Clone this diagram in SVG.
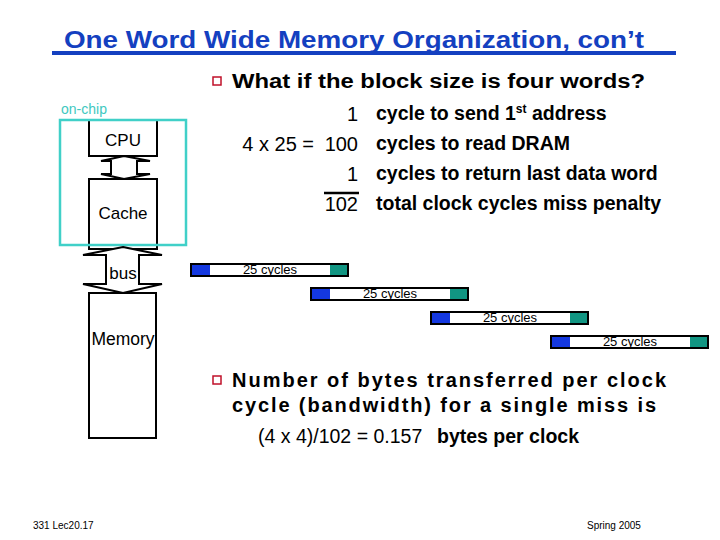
<svg xmlns="http://www.w3.org/2000/svg" width="720" height="540" viewBox="0 0 720 540">
<style>
text{font-family:"Liberation Sans",Arial,sans-serif;fill:#000}
.b{font-weight:bold}
.box{fill:#fff;stroke:#000;stroke-width:2}
.arr{fill:#fff;stroke:#000;stroke-width:2;stroke-linejoin:miter}
.bar{fill:#fff;stroke:#000;stroke-width:2}
.bl{fill:#1438e0}
.tl{fill:#119582}
.cy{font-size:13px}
.bul{fill:#fff;stroke:#c0102a;stroke-width:1.5}
.n{font-size:20px}
</style>
<rect width="720" height="540" fill="#fff"/>
<g id="title">
<text x="64" y="48" font-size="23" class="b" style="fill:#1440c0" textLength="580" lengthAdjust="spacingAndGlyphs">One Word Wide Memory Organization, con’t</text>
<rect x="52" y="51" width="624" height="4" fill="#1440c0"/>
</g>
<g id="q1">
<rect class="bul" x="213" y="77" width="8" height="8"/>
<text x="232" y="88" font-size="20" class="b" textLength="413" lengthAdjust="spacingAndGlyphs">What if the block size is four words?</text>
</g>
<g id="onchip">
<text x="61" y="114" font-size="14" style="fill:#40c8c0">on-chip</text>
</g>
<g id="cpu">
<rect class="box" x="89" y="120" width="68" height="36"/>
<text x="123" y="146" font-size="17" text-anchor="middle">CPU</text>
</g>
<g id="cache">
<rect class="box" x="89" y="179" width="68" height="70"/>
<text x="123" y="219" font-size="17" text-anchor="middle">Cache</text>
</g>
<rect x="60" y="120" width="126" height="125" fill="none" stroke="#40d0c8" stroke-width="2.5"/>
<g id="memory">
<rect class="box" x="89" y="293" width="67" height="145"/>
<text x="123" y="345" font-size="17.5" text-anchor="middle">Memory</text>
</g>
<g id="connectors">
<path class="arr" d="M124,156 L150,161 L137,161 L137,174 L150,174 L124,179 L101,174 L111,174 L111,161 L101,161 Z"/>
<path class="arr" d="M123,247 L162,255 L139,255 L139,284 L162,284 L123,293 L83,284 L106,284 L106,255 L83,255 Z"/>
</g>
<text x="123" y="279" font-size="17" text-anchor="middle">bus</text>
<g id="timing">
<g id="t1"><rect class="bar" x="191" y="264" width="157" height="12"/><rect class="bl" x="192" y="265" width="18" height="10"/><rect class="tl" x="330" y="265" width="17" height="10"/><text class="cy" x="270" y="274" text-anchor="middle">25 cycles</text></g>
<g id="t2"><rect class="bar" x="311" y="288" width="157" height="12"/><rect class="bl" x="312" y="289" width="18" height="10"/><rect class="tl" x="450" y="289" width="17" height="10"/><text class="cy" x="390" y="298" text-anchor="middle">25 cycles</text></g>
<g id="t3"><rect class="bar" x="431" y="312" width="157" height="12"/><rect class="bl" x="432" y="313" width="18" height="10"/><rect class="tl" x="570" y="313" width="17" height="10"/><text class="cy" x="510" y="322" text-anchor="middle">25 cycles</text></g>
<g id="t4"><rect class="bar" x="551" y="336" width="157" height="12"/><rect class="bl" x="552" y="337" width="18" height="10"/><rect class="tl" x="690" y="337" width="17" height="10"/><text class="cy" x="630" y="346" text-anchor="middle">25 cycles</text></g>
</g>
<g id="calc">
<text class="n" x="358" y="121" text-anchor="end">1</text>
<text class="n" x="314" y="151" text-anchor="end">4 x 25 =</text>
<text class="n" x="358" y="151" text-anchor="end">100</text>
<text class="n" x="358" y="181" text-anchor="end">1</text>
<line x1="324" y1="193" x2="359" y2="193" stroke="#000" stroke-width="2.5"/>
<text class="n" x="358" y="211" text-anchor="end">102</text>
<text x="376" y="120" font-size="19.5" class="b">cycle to send 1<tspan font-size="12" dy="-7">st</tspan><tspan dy="7"> address</tspan></text>
<text x="376" y="150" font-size="19.5" class="b">cycles to read DRAM</text>
<text x="376" y="180" font-size="19.5" class="b">cycles to return last data word</text>
<text x="376" y="210" font-size="19.5" class="b">total clock cycles miss penalty</text>
</g>
<g id="q2">
<rect class="bul" x="213" y="376" width="8" height="8"/>
<text x="232" y="387" font-size="20" class="b" textLength="434" lengthAdjust="spacing">Number of bytes transferred per clock</text>
<text x="232" y="412" font-size="20" class="b" textLength="424" lengthAdjust="spacing">cycle (bandwidth) for a single miss is</text>
<text x="258" y="443" font-size="19.5">(4 x 4)/102 = 0.157 <tspan class="b" x="437">bytes per clock</tspan></text>
</g>
<g id="footer">
<text x="33" y="529" font-size="10">331  Lec20.17</text>
<text x="587" y="529" font-size="10">Spring 2005</text>
</g>
</svg>
